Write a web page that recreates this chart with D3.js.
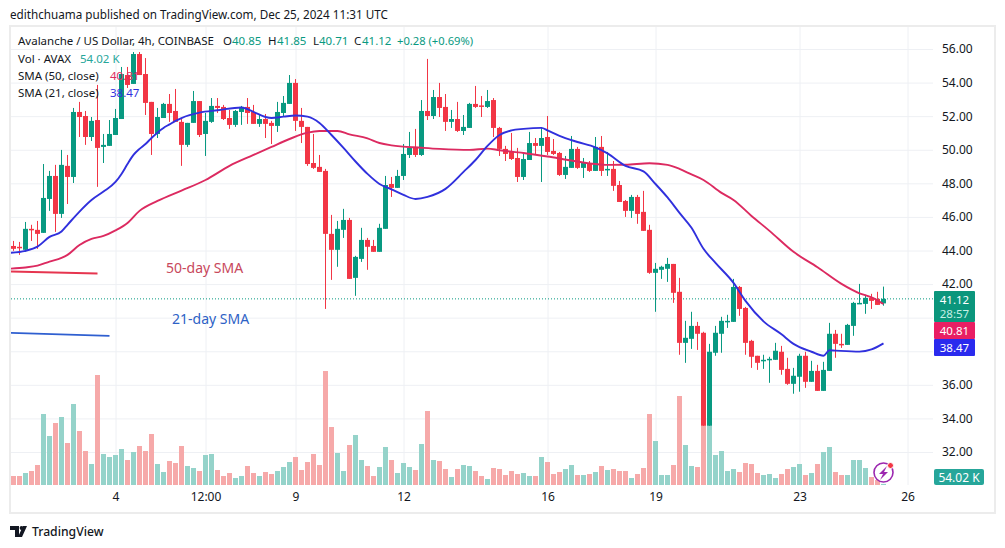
<!DOCTYPE html>
<html><head><meta charset="utf-8">
<script src="https://cdn.jsdelivr.net/npm/d3@7"></script>
<style>html,body{margin:0;padding:0;background:#fff}svg{display:block}text{font-family:"Noto Sans","Open Sans",sans-serif}</style>
</head><body><svg id="c" width="1005" height="548"></svg>
<script>
const open=[44.27,44.22,44.04,45.29,45.23,45.05,47.07,48.44,46.18,49.04,48.38,52.25,52.01,50.76,51.77,50.17,50.23,50.88,51.83,54.45,53.92,55.70,54.51,52.85,50.94,51.89,52.73,52.31,51.66,50.29,51.60,52.90,50.94,51.66,52.61,52.55,51.89,51.48,52.25,52.55,52.25,51.54,51.83,51.60,51.42,52.19,52.73,53.98,51.72,51.36,49.21,48.98,48.74,44.99,44.04,45.23,45.82,42.37,43.50,44.63,44.27,43.92,45.29,47.96,47.73,48.44,49.69,50.17,49.69,52.31,52.01,53.14,52.55,51.66,51.83,51.12,51.30,52.73,52.64,52.55,52.96,51.30,50.05,49.87,49.51,48.38,49.39,50.40,50.23,50.76,49.93,49.81,48.50,48.92,50.05,48.92,49.21,48.74,50.17,48.80,48.86,47.90,46.95,46.36,47.19,46.30,45.23,42.67,42.85,42.91,43.20,41.54,38.50,38.74,39.51,39.10,33.56,37.91,39.04,39.78,39.75,41.83,40.58,38.62,37.73,37.43,37.49,37.49,37.97,36.95,36.06,36.48,37.73,36.18,36.83,35.64,36.83,39.04,38.44,38.38,39.51,40.82,40.82,41.18,41.12,40.85];
const high=[44.57,44.51,45.70,45.53,45.76,49.15,48.74,49.10,49.99,49.69,52.49,52.85,52.31,51.95,53.86,50.94,51.77,52.43,54.93,54.93,55.82,55.82,55.46,52.85,52.49,52.79,53.32,53.62,51.89,51.60,53.50,52.90,52.19,53.08,53.08,52.67,52.37,52.37,52.61,53.08,52.67,52.07,52.13,51.72,52.85,53.20,54.45,54.21,52.49,51.36,50.94,49.69,48.86,46.12,45.76,46.48,45.94,43.68,45.35,44.75,44.63,45.59,48.44,48.38,48.80,50.34,51.06,51.24,52.96,55.41,53.56,53.98,53.32,52.37,52.85,52.07,52.79,53.80,53.20,53.56,53.08,51.36,50.23,51.00,50.11,49.81,51.06,50.70,51.30,52.01,50.64,49.87,49.63,50.82,50.17,49.51,49.33,50.76,50.82,49.87,49.33,48.14,47.01,47.31,47.31,47.55,45.53,43.26,43.09,43.56,43.20,42.37,39.81,40.35,39.75,39.16,38.44,39.51,40.05,40.17,42.31,41.89,40.64,38.68,37.73,37.79,37.67,38.50,38.32,37.61,37.01,37.85,37.97,37.43,37.19,37.37,39.69,39.27,39.04,39.63,40.94,42.01,41.36,41.42,41.54,41.85];
const low=[43.98,43.74,43.92,44.57,44.10,45.05,46.36,45.11,45.94,46.77,48.02,50.76,50.29,50.52,47.79,49.21,50.23,50.88,51.83,53.68,53.92,54.45,52.07,49.69,50.70,51.89,51.66,51.66,49.04,50.17,51.60,50.76,49.63,51.60,52.19,51.77,51.24,51.36,51.48,51.54,51.54,51.36,50.70,50.34,51.06,52.01,52.73,51.12,50.40,49.04,48.86,48.68,40.52,42.25,43.03,44.75,42.31,41.30,43.32,42.85,43.92,43.92,45.29,47.19,47.73,48.20,49.51,49.57,49.63,51.77,51.83,51.95,51.12,51.30,51.06,50.88,51.30,52.49,51.95,52.49,50.76,49.63,49.33,49.39,48.08,48.20,49.39,49.75,48.08,49.69,49.69,48.44,48.26,48.92,48.86,48.32,48.68,48.74,48.44,48.44,47.55,46.89,46.00,45.94,45.59,45.17,42.61,40.35,42.31,42.13,40.88,37.79,37.31,38.14,38.08,33.56,33.56,37.73,37.91,39.39,39.75,40.11,37.79,37.01,36.89,36.95,36.12,37.49,36.60,36.00,35.47,35.59,35.82,36.18,35.64,35.64,36.83,37.61,38.20,38.38,38.92,40.82,40.23,40.52,40.76,40.71];
const close=[44.10,44.16,45.29,45.23,44.99,47.13,48.44,46.18,49.10,48.38,52.25,51.95,50.76,51.72,50.11,50.29,50.94,51.89,54.51,53.86,55.70,54.45,52.79,50.94,51.95,52.73,52.19,51.66,50.29,51.60,52.90,50.88,51.72,52.61,52.49,51.83,51.48,52.31,52.55,52.19,51.54,51.83,51.54,51.42,52.25,52.79,53.98,51.72,51.36,49.15,48.92,48.68,44.99,44.04,45.29,45.82,42.31,43.62,44.63,44.22,43.92,45.35,47.90,47.73,48.44,49.75,50.11,49.69,52.31,52.01,53.14,52.49,51.66,51.83,51.12,51.36,52.73,52.55,52.61,52.90,51.30,50.05,49.75,49.45,48.38,49.45,50.40,50.23,50.70,49.87,49.75,48.50,48.98,50.05,48.92,49.21,48.74,50.17,48.74,48.86,47.85,46.89,46.36,47.19,46.18,45.17,42.67,42.91,43.03,43.20,41.48,38.50,38.80,39.51,39.04,33.56,37.97,39.10,39.81,39.81,41.83,40.52,38.50,37.67,37.31,37.49,37.55,38.03,36.89,36.06,36.54,37.73,36.18,36.83,35.64,36.89,39.04,38.44,38.41,39.57,40.88,40.88,41.18,41.00,40.76,41.12];
const volumeK=[450,450,600,700,1000,3550,2450,3100,3400,2100,4050,2700,1700,1050,5500,1550,1400,1500,1800,1250,1650,1950,1700,2550,1050,650,1200,1100,1950,950,850,700,1500,1550,750,450,600,350,450,950,600,450,650,550,700,900,1150,1400,750,1150,1550,1000,5700,2900,1600,700,2000,2500,1250,950,450,900,1900,1250,600,1100,900,750,2050,3700,1250,1200,800,400,800,1000,950,700,450,300,850,800,500,700,550,600,450,450,1400,1150,550,650,800,1000,500,500,550,650,950,750,800,700,700,350,550,850,3550,2200,500,500,1000,4450,2000,950,900,2950,2950,1500,1700,700,800,650,1100,1050,600,500,550,350,550,800,900,1050,500,600,1050,1650,1900,650,500,500,1250,1250,850,400,250,54.02];
const sma21Index=[-0.5,2,4,6,8,9,11,13,15,17,18,19,20,21,22,23,25,26,27,28,31,34,38,40,42,43,45,47,49,51,53,55,57,59,61,63,65,67,69,72,75,77,79,81,83,85,88,89,91,94,97,99,102,105,107,109,111,113,115,117,120,122,125,128,130,133,135,136,137,141,143,145];
const sma21=[43.86,43.98,44.23,44.81,45.13,45.53,46.32,47.01,47.51,48.08,48.56,49.15,49.69,50.05,50.34,50.70,51.30,51.51,51.72,51.89,52.21,52.35,52.52,52.25,51.95,51.89,51.97,52.04,51.97,51.60,50.88,50.11,49.30,48.56,47.96,47.64,47.31,47.07,47.19,47.67,48.68,49.39,50.23,50.88,51.15,51.24,51.30,51.15,50.82,50.46,50.14,49.78,49.04,48.71,47.96,47.16,46.24,45.35,44.10,43.26,42.07,41.00,39.78,39.01,38.44,37.97,37.73,38.06,38.04,37.98,38.11,38.47];
const sma50Index=[-0.5,2,4,6,8,9,11,13,15,17,19,21,24,28,32,36,40,43,46,49,51,54,56,59,61,63,68,71,76,79,81,85,89,93,97,99,102,106,109,111,113,115,118,120,123,126,130,134,138,141,143,145];
const sma50=[42.92,42.99,43.10,43.34,43.56,43.74,44.33,44.69,44.87,45.20,45.64,46.36,46.95,47.57,48.20,49.04,49.69,50.17,50.64,51.02,51.12,51.12,50.92,50.68,50.40,50.26,50.12,50.05,49.99,50.07,49.97,49.81,49.60,49.36,49.15,49.10,49.11,49.20,49.10,48.86,48.53,48.20,47.43,47.01,46.06,45.17,43.92,43.00,42.01,41.45,41.21,40.81];
const priceGridTicks=[56,54,52,50,48,46,44,42,40,38,36,34,32];
const priceLabelTicks=[56,54,52,50,48,46,44,42,36,34,32];
const timeTickIndex=[17,32,47,65,89,107,131,149];
const timeTickLabels=["4","12:00","9","12","16","19","23","26"];
const note50Price=[42.75,42.63]; const note50Index=[-0.5,14];
const note21Price=[39.10,38.92]; const note21Index=[-0.5,16];

const GREEN="#089981",RED="#f23645",BLUE="#3030dd",PINK="#dc2a60",GRID="#eef0f4";
const svg=d3.select("#c");
const x=d3.scaleLinear().domain([0,149]).range([13.5,907.5]);
const y=d3.scaleLinear().domain([56,32]).range([49,452]);
const yVol=d3.scaleLinear().domain([0,6000]).range([485,365]);
const L=11,R=933,T=27,B=485;
svg.append("defs").append("clipPath").attr("id","plot").append("rect").attr("x",L).attr("y",T).attr("width",R-L).attr("height",B-T);

svg.append("rect").attr("x",10).attr("y",26).attr("width",985).attr("height",487).attr("fill","#fff").attr("stroke","#ececec").attr("stroke-width",2);

// grid via axes
const gyGrid=svg.append("g").attr("transform",`translate(${L},0)`)
  .call(d3.axisRight(y).tickValues(priceGridTicks).tickSize(R-L).tickFormat(""));
gyGrid.select(".domain").remove(); gyGrid.selectAll("line").attr("stroke",GRID);
const gxGrid=svg.append("g").attr("transform",`translate(0,${T})`)
  .call(d3.axisBottom(x).tickValues(timeTickIndex).tickSize(B-T).tickFormat(""));
gxGrid.select(".domain").remove(); gxGrid.selectAll("line").attr("stroke",GRID);
const gy=svg.append("g").attr("transform",`translate(${R},0)`)
  .call(d3.axisRight(y).tickValues(priceLabelTicks).tickSize(0).tickPadding(9).tickFormat(d3.format(".2f")));
gy.select(".domain").remove();
gy.selectAll("text").attr("font-size",12).attr("fill","#131722").attr("font-family",'"Noto Sans"');
const gx=svg.append("g").attr("transform",`translate(0,${B})`)
  .call(d3.axisBottom(x).tickValues(timeTickIndex).tickSize(0).tickPadding(7).tickFormat((d,i)=>timeTickLabels[i]));
gx.select(".domain").remove();
gx.selectAll("text").attr("font-size",12).attr("fill","#131722").attr("font-family",'"Noto Sans"');

const plot=svg.append("g").attr("clip-path","url(#plot)");
const idx=d3.range(open.length);
// volume
plot.append("g").selectAll("rect").data(idx).join("rect")
  .attr("x",i=>x(i)-2.5).attr("width",5).attr("y",i=>yVol(volumeK[i])).attr("height",i=>yVol(0)-yVol(volumeK[i]))
  .attr("fill",i=>close[i]>=open[i]?"#95d3ca":"#f6a9a9");
// last price line
plot.append("line").attr("x1",L).attr("x2",R).attr("y1",y(close[close.length-1])).attr("y2",y(close[close.length-1]))
  .attr("stroke",GREEN).attr("stroke-dasharray","1 2").attr("stroke-width",1);
// candles
const cg=plot.append("g").selectAll("g").data(idx).join("g");
cg.append("line").attr("x1",i=>x(i)).attr("x2",i=>x(i)).attr("y1",i=>y(high[i])).attr("y2",i=>y(low[i]))
  .attr("stroke",i=>close[i]>=open[i]?GREEN:RED).attr("stroke-width",1);
cg.append("rect").attr("x",i=>x(i)-2.5).attr("width",5)
  .attr("y",i=>y(Math.max(open[i],close[i]))).attr("height",i=>Math.max(1.5,Math.abs(y(open[i])-y(close[i]))))
  .attr("fill",i=>close[i]>=open[i]?GREEN:RED);
// SMA
const line=d3.line().curve(d3.curveMonotoneX);
plot.append("path").attr("d",line(sma50Index.map((d,i)=>[x(d),y(sma50[i])]))).attr("fill","none").attr("stroke",PINK).attr("stroke-width",1.9);
plot.append("path").attr("d",line(sma21Index.map((d,i)=>[x(d),y(sma21[i])]))).attr("fill","none").attr("stroke",BLUE).attr("stroke-width",1.9);
// annotations
const straight=d3.line();
plot.append("path").attr("d",straight(note50Index.map((d,i)=>[x(d),y(note50Price[i])]))).attr("fill","none").attr("stroke","#e6354f").attr("stroke-width",1.8);
plot.append("path").attr("d",straight(note21Index.map((d,i)=>[x(d),y(note21Price[i])]))).attr("fill","none").attr("stroke","#2f5fd0").attr("stroke-width",1.8);
svg.append("text").attr("x",166).attr("y",273).attr("font-size",14).attr("fill","#c8485c").text("50-day SMA");
svg.append("text").attr("x",172).attr("y",324).attr("font-size",14).attr("fill","#2e62c6").text("21-day SMA");

// legend + header
function t(x0,y0,s,fill,size){return svg.append("text").attr("x",x0).attr("y",y0).attr("font-size",size||11.5).attr("fill",fill||"#131722").text(s);}
t(10,19,"edithchuama published on TradingView.com, Dec 25, 2024 11:31 UTC","#131722",11.7);
t(18,45,"Avalanche / US Dollar, 4h, COINBASE");
const G="#089981";
t(223,45,"O");t(232,45,"40.85",G);t(268,45,"H");t(277,45,"41.85",G);t(313,45,"L");t(319,45,"40.71",G);t(354,45,"C");t(362,45,"41.12",G);t(397,45,"+0.28 (+0.69%)",G,11.2);
t(18,63,"Vol · AVAX");t(80,63,"54.02 K","#26a69a");
t(18,80,"SMA (50, close)");t(110,80,"40.81",PINK);
t(18,97,"SMA (21, close)");t(110,97,"38.47",BLUE);

// price labels
function box(y0,h,fill,rx){svg.append("rect").attr("x",934).attr("y",y0).attr("width",41).attr("height",h).attr("fill",fill).attr("rx",rx||1);}
box(291,31,"#0b967c");box(322,17,"#e91e63");box(339,17,"#2a2aee");
function lab(y0,s,fill){svg.append("text").attr("x",954.5).attr("y",y0).attr("text-anchor","middle").attr("font-size",11.5).attr("fill",fill||"#fff").text(s);}
lab(304,"41.12");lab(318,"28:57","#c6f0e6");lab(335,"40.81");lab(352,"38.47");
svg.append("rect").attr("x",934).attr("y",469).attr("width",50).attr("height",16).attr("fill","#26a69a").attr("rx",2);
svg.append("text").attr("x",959).attr("y",481.5).attr("text-anchor","middle").attr("font-size",12).attr("fill","#fff").text("54.02 K");

// bolt icon
svg.append("circle").attr("cx",883.5).attr("cy",472.5).attr("r",9.5).attr("fill","#fff").attr("stroke","#9c27b0").attr("stroke-width",1.6);
svg.append("path").attr("d","M887 466 L879 474 L883 474 L880 480 L888 472 L884 472 Z").attr("fill","#9c27b0");
svg.append("circle").attr("cx",890.5).attr("cy",465.5).attr("r",3).attr("fill","#f23645").attr("stroke","#fff").attr("stroke-width",1);

// footer logo
svg.append("path").attr("d","M10 526 H19 V537 H15 V530 H10 Z M27 526 L22 537 H18 L23 526 Z").attr("fill","#131722");
svg.append("circle").attr("cx",21.5).attr("cy",528).attr("r",1.9).attr("fill","#131722");
svg.append("text").attr("x",32).attr("y",535.5).attr("font-size",12.2).attr("font-weight",500).attr("fill","#131722").text("TradingView");
</script></body></html>
